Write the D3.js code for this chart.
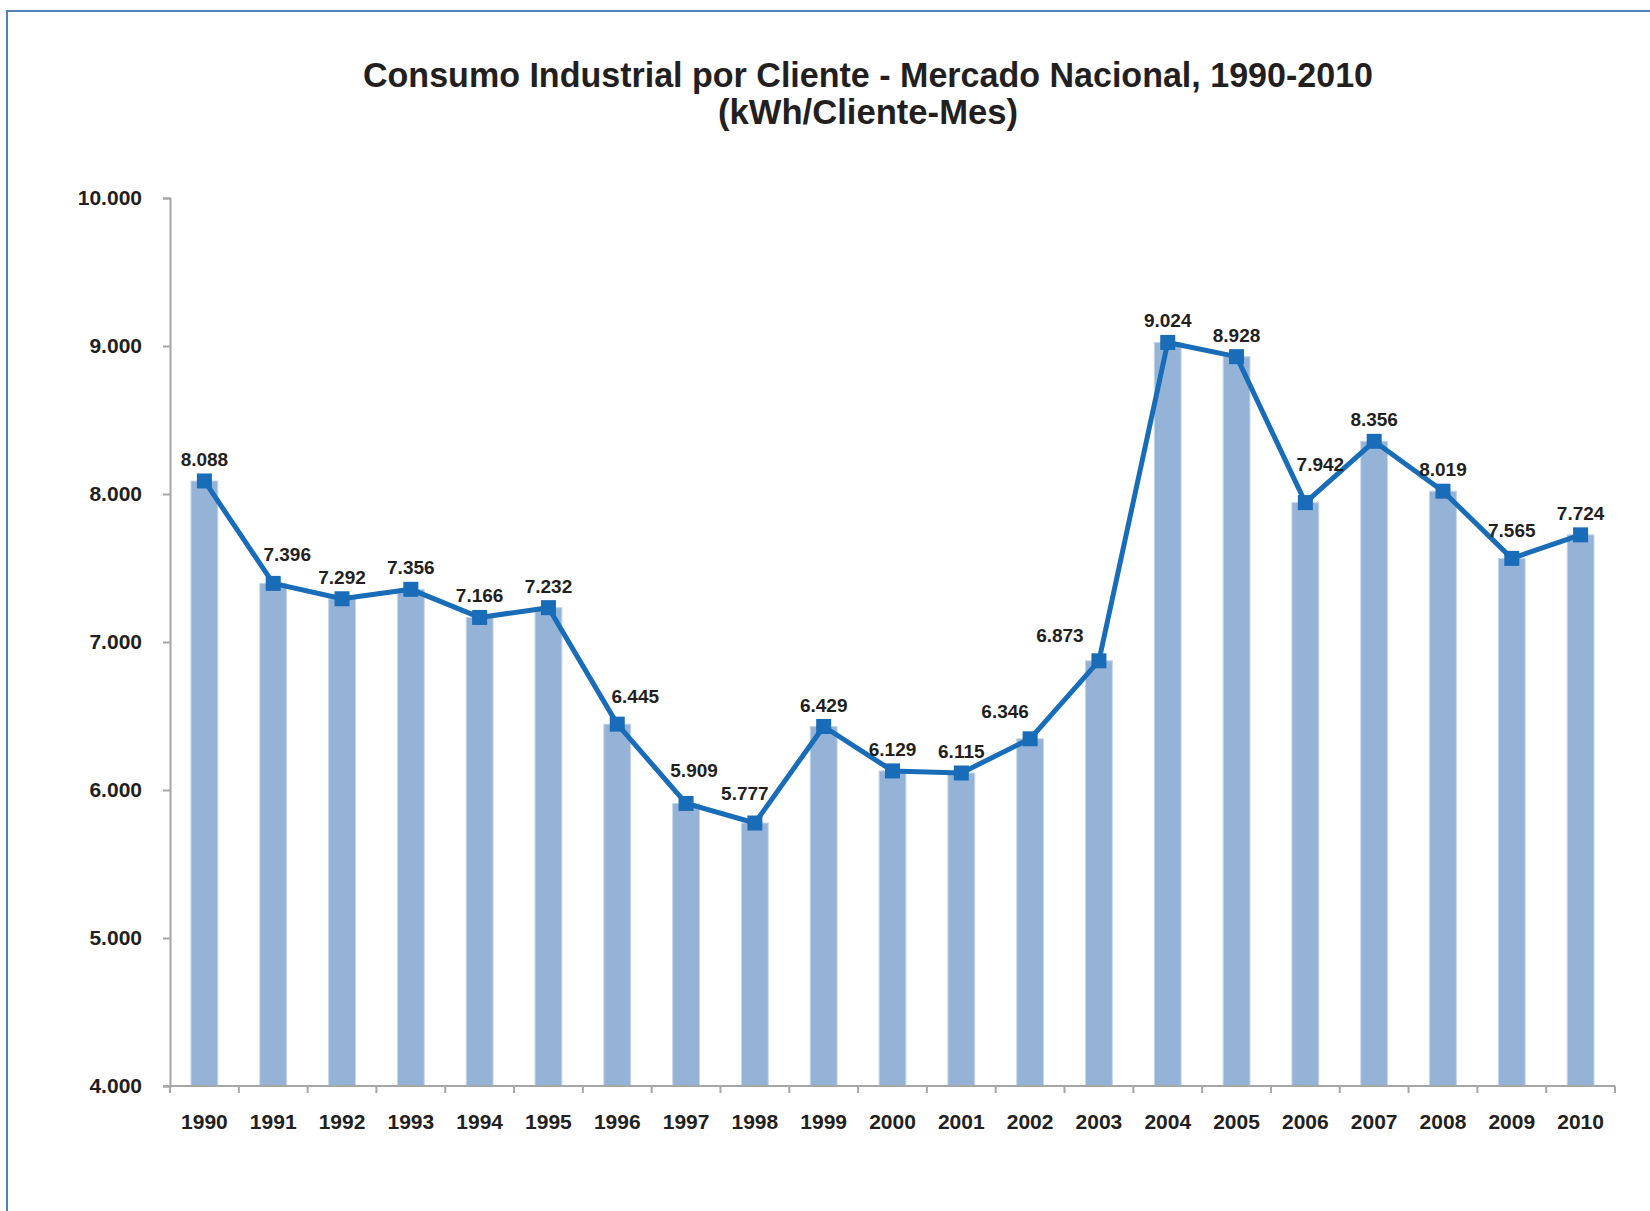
<!DOCTYPE html>
<html>
<head>
<meta charset="utf-8">
<script src="https://cdn.jsdelivr.net/npm/d3@7"></script>
<style>
    body { margin: 0; background: #fff; }
    svg { display: block; font-family: "Liberation Sans", Arial, sans-serif; }
</style>
</head>
<body>
<svg id="chart" width="1650" height="1211"></svg>
<script>
const years = ['1990', '1991', '1992', '1993', '1994', '1995', '1996', '1997', '1998', '1999', '2000',
    '2001', '2002', '2003', '2004', '2005', '2006', '2007', '2008', '2009', '2010']
const consumo = [8088, 7396, 7292, 7356, 7166, 7232, 6445, 5909, 5777, 6429, 6129,
    6115, 6346, 6873, 9024, 8928, 7942, 8356, 8019, 7565, 7724]
const yTicks = [4000, 5000, 6000, 7000, 8000, 9000, 10000]
const titleLines = ['Consumo Industrial por Cliente - Mercado Nacional, 1990-2010', '(kWh/Cliente-Mes)']

// label nudges (excel moved a few labels around so they don't hit the line)
const labelShift = {
    '1991': [14, -7], '1996': [18, -6], '1997': [8, -11], '1998': [-10, -8],
    '2002': [-25, -6], '2003': [-39, -4], '2006': [15, -17], '2009': [0, -6]
}

const svg = d3.select('#chart')
const textColor = '#231f20'
const lineColor = '#196cb7'
const barColor = '#95b3d7'

const margin = { left: 170, right: 35, top: 198, bottom: 125 }
const width = 1650, height = 1211

// outer frame, only left and top edges show in the picture
svg.append('rect')
    .attr('x', 7).attr('y', 11)
    .attr('width', 1700).attr('height', 1300)
    .attr('fill', 'none')
    .attr('stroke', '#4f81bd')
    .attr('stroke-width', 2)

let x = d3.scaleBand()
    .domain(years)
    .range([margin.left, width - margin.right])
    .paddingInner(0.61)
    .paddingOuter(0.305)

let xGrid = d3.scaleBand()
    .domain(years)
    .range([margin.left, width - margin.right])

let y = d3.scaleLinear()
    .domain([4000, 10000])
    .range([height - margin.bottom, margin.top])

let fmt = d3.formatLocale({ decimal: ',', thousands: '.', grouping: [3] }).format(',d')

// title
let title = svg.append('g')
title.selectAll('text')
    .data(titleLines)
    .join('text')
    .attr('x', 868)
    .attr('y', (d, i) => 87 + i * 37)
    .attr('text-anchor', 'middle')
    .attr('textLength', (d, i) => i === 0 ? 1010 : 300)
    .attr('lengthAdjust', 'spacingAndGlyphs')
    .style('font-size', '35px')
    .style('font-weight', 'bold')
    .attr('fill', textColor)
    .text(d => d)

// bars
svg.append('g')
    .selectAll('rect')
    .data(consumo)
    .join('rect')
    .attr('x', (d, i) => x(years[i]))
    .attr('y', d => y(d))
    .attr('width', x.bandwidth())
    .attr('height', d => y(4000) - y(d))
    .attr('fill', barColor)
    .attr('stroke', '#c6d6ea')
    .attr('stroke-width', 1)

// y axis
let yAxis = svg.append('g')
    .attr('transform', `translate(${margin.left},0)`)
    .call(d3.axisLeft(y).tickValues(yTicks).tickSize(7).tickPadding(21).tickFormat(fmt))
yAxis.select('.domain').attr('stroke', '#a6a6a6').attr('stroke-width', 2)
yAxis.selectAll('.tick line').attr('stroke', '#a6a6a6').attr('stroke-width', 2)
yAxis.selectAll('.tick text')
    .style('font-size', '21px')
    .style('font-weight', 'bold')
    .attr('fill', textColor)
    .attr('font-family', null)

// x axis
let xAxisG = svg.append('g')
    .attr('transform', `translate(0,${y(4000)})`)
xAxisG.append('line')
    .attr('x1', margin.left - 7).attr('x2', width - margin.right)
    .attr('stroke', '#a6a6a6').attr('stroke-width', 2)
xAxisG.selectAll('.xtick')
    .data(years.concat(['end']))
    .join('line')
    .attr('class', 'xtick')
    .attr('x1', d => d === 'end' ? width - margin.right : xGrid(d))
    .attr('x2', d => d === 'end' ? width - margin.right : xGrid(d))
    .attr('y1', 0).attr('y2', 7)
    .attr('stroke', '#a6a6a6').attr('stroke-width', 2)
xAxisG.selectAll('.xlabel')
    .data(years)
    .join('text')
    .attr('class', 'xlabel')
    .attr('x', d => x(d) + x.bandwidth() / 2)
    .attr('y', 43)
    .attr('text-anchor', 'middle')
    .style('font-size', '21px')
    .style('font-weight', 'bold')
    .attr('fill', textColor)
    .text(d => d)

// line + markers
let cx = (d, i) => x(years[i]) + x.bandwidth() / 2

svg.append('path')
    .datum(consumo)
    .attr('fill', 'none')
    .attr('stroke', lineColor)
    .attr('stroke-width', 5)
    .attr('stroke-linejoin', 'round')
    .attr('d', d3.line().x(cx).y(d => y(d)))

svg.append('g')
    .selectAll('rect')
    .data(consumo)
    .join('rect')
    .attr('x', (d, i) => cx(d, i) - 7.5)
    .attr('y', d => y(d) - 7.5)
    .attr('width', 15)
    .attr('height', 15)
    .attr('fill', lineColor)

// value labels
svg.append('g')
    .selectAll('text')
    .data(consumo)
    .join('text')
    .attr('x', (d, i) => cx(d, i) + (labelShift[years[i]] ? labelShift[years[i]][0] : 0))
    .attr('y', (d, i) => y(d) - 15 + (labelShift[years[i]] ? labelShift[years[i]][1] : 0))
    .attr('text-anchor', 'middle')
    .style('font-size', '19px')
    .style('font-weight', 'bold')
    .attr('fill', textColor)
    .text(d => fmt(d))
</script>
</body>
</html>
